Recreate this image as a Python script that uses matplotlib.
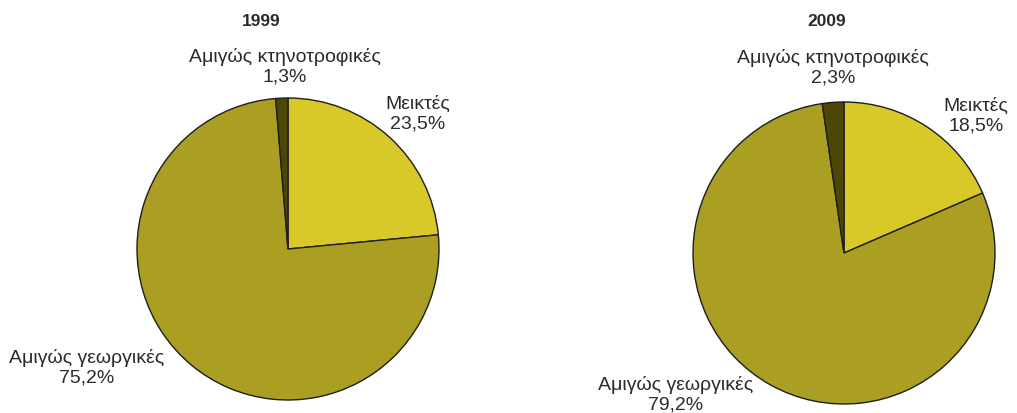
import matplotlib

matplotlib.use("Agg")
import matplotlib.pyplot as plt  # noqa: E402

plt.rcParams["font.family"] = ["Liberation Sans", "DejaVu Sans"]

CATEGORIES = ["Μεικτές", "Αμιγώς γεωργικές", "Αμιγώς κτηνοτροφικές"]
YEARS = ["1999", "2009"]
SHARES_1999 = [23.5, 75.2, 1.3]
SHARES_2009 = [18.5, 79.2, 2.3]
COLORS = ["#d8c828", "#aa9f22", "#4d4704"]

W, H = 1017, 413
TEXT = "#2a2a2a"

# layout in pixels (from top-left): pie box, title, label centres
PIES = [
    dict(box=(137, 98, 302), title=(261, 21),
         labels=[(418, 114), (87, 368), (285, 67)]),
    dict(box=(693, 102, 302), title=(827, 22),
         labels=[(976, 116), (676, 395), (833, 68)]),
]


def fx(x):
    return x / W


def fy(y):
    return 1 - y / H


fig = plt.figure(figsize=(W / 100, H / 100), dpi=100)

for year, shares, lay in zip(YEARS, [SHARES_1999, SHARES_2009], PIES):
    left, top, size = lay["box"]
    ax = fig.add_axes([fx(left), fy(top + size), size / W, size / H])
    ax.pie(shares, colors=COLORS, startangle=90, counterclock=False,
           wedgeprops=dict(edgecolor="#1e1e1e", linewidth=1.0))
    ax.set_aspect("equal")
    ax.set_xlim(-1.0, 1.0)
    ax.set_ylim(-1.0, 1.0)
    fig.text(fx(lay["title"][0]), fy(lay["title"][1]), year, ha="center", va="center",
             fontsize=12.5, fontweight="bold", color=TEXT)
    for cat, val, (lx, ly) in zip(CATEGORIES, shares, lay["labels"]):
        txt = f"{cat}\n{val:.1f}%".replace(".", ",")
        fig.text(fx(lx), fy(ly), txt, ha="center", va="center", fontsize=14,
                 color=TEXT, linespacing=1.17)

fig.savefig("out.png", dpi=100)
